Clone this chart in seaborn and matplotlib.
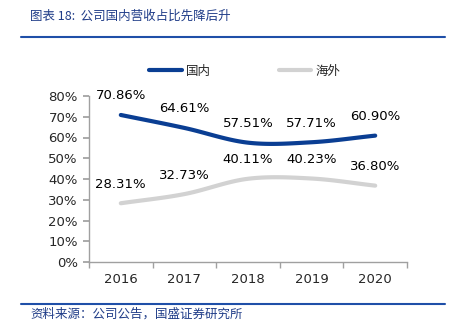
import numpy as np
import pandas as pd
import matplotlib
matplotlib.use("Agg")
import matplotlib.pyplot as plt
import seaborn as sns
from matplotlib.lines import Line2D

years = ["2016", "2017", "2018", "2019", "2020"]
domestic = [70.86, 64.61, 57.51, 57.71, 60.90]
overseas = [28.31, 32.73, 40.11, 40.23, 36.80]
series_names = ["国内", "海外"]
y_ticks = [0, 10, 20, 30, 40, 50, 60, 70, 80]

sns.set_theme(style="white")
plt.rcParams['font.family'] = ['DejaVu Sans', 'Noto Sans CJK SC']

BLUE = "#0A3E93"
GRAY = "#D2D2D2"


def smooth(xs, ys, n=30):
    # Catmull-Rom style smoothing similar to spreadsheet "smoothed line"
    xs = np.asarray(xs, float)
    ys = np.asarray(ys, float)
    px = np.concatenate([[2 * xs[0] - xs[1]], xs, [2 * xs[-1] - xs[-2]]])
    py = np.concatenate([[2 * ys[0] - ys[1]], ys, [2 * ys[-1] - ys[-2]]])
    ox, oy = [], []
    for i in range(1, len(px) - 2):
        t = np.linspace(0, 1, n, endpoint=(i == len(px) - 3))
        p0, p1, p2, p3 = py[i - 1], py[i], py[i + 1], py[i + 2]
        x0, x1, x2, x3 = px[i - 1], px[i], px[i + 1], px[i + 2]
        oy.extend(0.5 * ((2 * p1) + (-p0 + p2) * t + (2 * p0 - 5 * p1 + 4 * p2 - p3) * t ** 2
                         + (-p0 + 3 * p1 - 3 * p2 + p3) * t ** 3))
        ox.extend(0.5 * ((2 * x1) + (-x0 + x2) * t + (2 * x0 - 5 * x1 + 4 * x2 - x3) * t ** 2
                         + (-x0 + 3 * x1 - 3 * x2 + x3) * t ** 3))
    return np.array(ox), np.array(oy)


fig = plt.figure(figsize=(4.6, 3.3), dpi=100)
ax = fig.add_axes([89 / 460, 1 - 262 / 330, (407 - 89) / 460, (262 - 96) / 330])

xpos = np.arange(len(years))
frames = []
for name, vals in zip(series_names, [domestic, overseas]):
    sx, sy = smooth(xpos, vals)
    frames.append(pd.DataFrame({"x": sx, "y": sy, "series": name}))
df = pd.concat(frames, ignore_index=True)

sns.lineplot(data=df, x="x", y="y", hue="series", palette=[BLUE, GRAY],
             linewidth=3, ax=ax, legend=False, sort=False)

for vals in [domestic, overseas]:
    for xi, v in zip(xpos, vals):
        ax.annotate(f"{v:.2f}%", (xi, v), xytext=(0, 9), textcoords="offset points",
                    ha="center", va="bottom", fontsize=9.5, color="black")

ax.set_xlim(-0.5, len(years) - 0.5)
ax.set_ylim(0, 80)
ax.set_yticks(y_ticks)
ax.set_yticklabels([f"{t}%" for t in y_ticks], fontsize=9.5)
ax.set_xticks(xpos)
ax.set_xticklabels(years, fontsize=9.5)
ax.set_xlabel("")
ax.set_ylabel("")
ax.set_xticks(np.arange(-0.5, len(years), 1), minor=True)
ax.tick_params(axis="x", which="major", length=0, pad=8)
ax.tick_params(axis="x", which="minor", length=4, color="#A0A0A0", direction="out", bottom=True)
ax.tick_params(axis="y", length=4, color="#A0A0A0", direction="out", left=True, pad=4)
for s in ["top", "right"]:
    ax.spines[s].set_visible(False)
for s in ["left", "bottom"]:
    ax.spines[s].set_color("#A0A0A0")
    ax.spines[s].set_linewidth(1)

# legend
handles = [Line2D([], [], color=BLUE, lw=3), Line2D([], [], color=GRAY, lw=3)]
leg = fig.legend(handles, series_names, loc="center", bbox_to_anchor=(245 / 460, 1 - 71 / 330),
                 ncol=2, frameon=False, handlelength=2.6, columnspacing=5.4, handletextpad=0.35,
                 prop={"family": ["Noto Sans CJK SC"], "size": 9})

# title and footer
fig.text(30 / 460, 1 - 16 / 330, "图表 18:  公司国内营收占比先降后升", fontsize=9,
         color="#1F3C88", style="italic", va="center", family=["Noto Sans CJK SC"])
fig.add_artist(Line2D([21 / 460, 445 / 460], [1 - 37 / 330, 1 - 37 / 330], color="#1F4FA8", lw=1.5))
fig.add_artist(Line2D([21 / 460, 445 / 460], [1 - 304 / 330, 1 - 304 / 330], color="#1F4FA8", lw=1.5))
fig.text(30 / 460, 1 - 314 / 330, "资料来源：公司公告，国盛证券研究所", fontsize=9,
         color="#1F3C88", style="italic", va="center", family=["Noto Sans CJK SC"])

fig.savefig("out.png", dpi=100)
